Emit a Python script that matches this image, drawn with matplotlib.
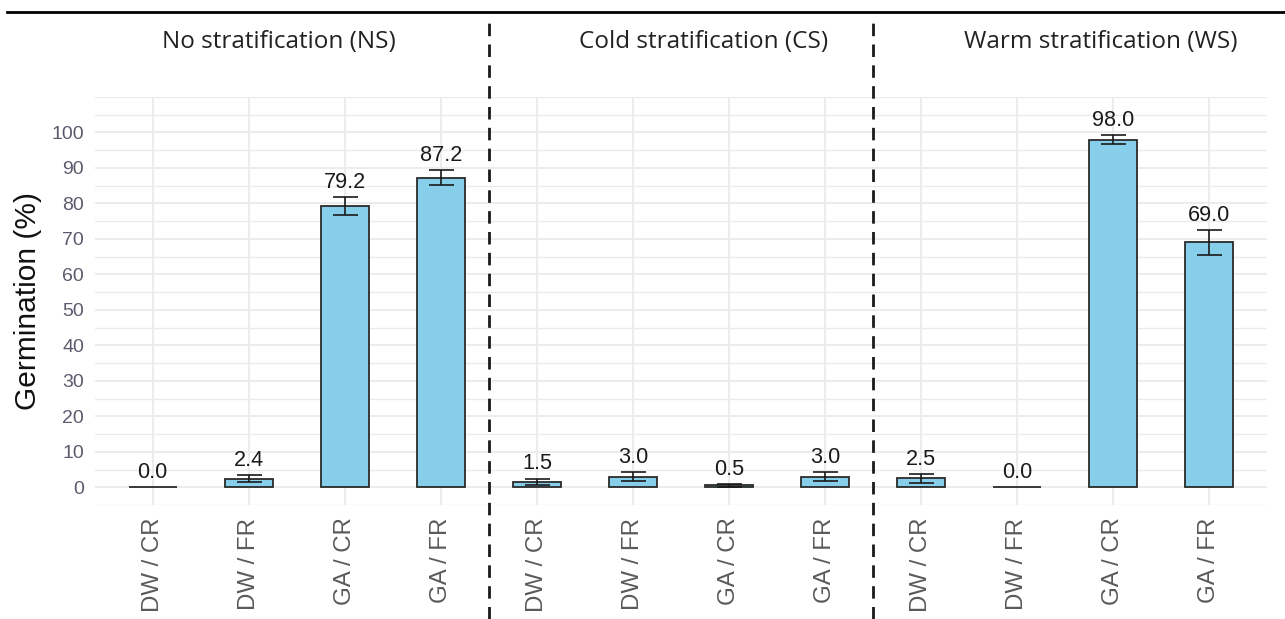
import matplotlib
matplotlib.use("Agg")
import matplotlib.pyplot as plt
from matplotlib.lines import Line2D
from matplotlib.ticker import MultipleLocator
import numpy as np

plt.rcParams['font.family'] = ['Liberation Sans', 'DejaVu Sans']

panels = ["No stratification (NS)", "Cold stratification (CS)", "Warm stratification (WS)"]
treatments = ["DW / CR", "DW / FR", "GA / CR", "GA / FR"]
ns_mean = [0.0, 2.4, 79.2, 87.2]
ns_err = [0.0, 1.0, 2.6, 2.1]
cs_mean = [1.5, 3.0, 0.5, 3.0]
cs_err = [0.9, 1.2, 0.3, 1.2]
ws_mean = [2.5, 0.0, 98.0, 69.0]
ws_err = [1.3, 0.0, 1.2, 3.4]

means = ns_mean + cs_mean + ws_mean
errs = ns_err + cs_err + ws_err
labels = treatments * 3
x = np.arange(1, len(means) + 1)

fig = plt.figure(figsize=(12.85, 6.19), dpi=100)
ax = fig.add_axes([95/1285, 1-505/619, (1267-95)/1285, (505-97)/619])

ax.bar(x, means, width=0.5, color='#87CEEB', edgecolor='#2b2b2b', linewidth=1.3, zorder=3)
for xi, m, e in zip(x, means, errs):
    if e > 0:
        ax.errorbar(xi, m, yerr=e, fmt='none', ecolor='#1a1a1a', elinewidth=1.2,
                    capsize=9, capthick=1.2, zorder=4)
    ax.text(xi, m + e + 1.2, f"{m:.1f}", ha='center', va='bottom', fontsize=15.6,
            color='#1a1a1a', zorder=5)

ax.set_xlim(0.4, 12.6)
ax.set_ylim(-5, 110)
ax.yaxis.set_major_locator(MultipleLocator(10))
ax.yaxis.set_minor_locator(MultipleLocator(5))
ax.set_yticks(np.arange(0, 101, 10))
ax.set_xticks(x)
ax.set_xticklabels(labels, rotation=90, fontsize=17.3, color='#5a5a5a')
ax.tick_params(axis='y', labelsize=14, labelcolor='#5b5b6e', length=0, pad=8)
ax.tick_params(axis='x', length=0, pad=9)
ax.tick_params(which='minor', length=0)
ax.grid(True, which='major', color='#ebebeb', linewidth=1.3, zorder=0)
ax.grid(True, which='minor', axis='y', color='#ebebeb', linewidth=1.0, zorder=0)
ax.set_axisbelow(True)
for s in ax.spines.values():
    s.set_visible(False)

ax.set_ylabel("Germination (%)", fontsize=21.5, color='#111111', labelpad=7)

# separators
for xs in [4.5, 8.5]:
    ax.axvline(xs, ymin=(505-619)/408, ymax=(505-15)/408, clip_on=False,
               color='#1a1a1a', linewidth=2.0, linestyle=(0, (4.5, 3)), zorder=6)

# top rule
fig.add_artist(Line2D([7/1285, 1.0], [1-12/619, 1-12/619], color='black', linewidth=2.0))

# facet titles
title_x = [279, 704, 1101]
for t, tx in zip(panels, title_x):
    fig.text(tx/1285, 1-42/619, t, ha='center', va='center', fontsize=17.5,
             color='#222222', family=['Open Sans', 'DejaVu Sans'])

fig.savefig("out.png", dpi=100)
